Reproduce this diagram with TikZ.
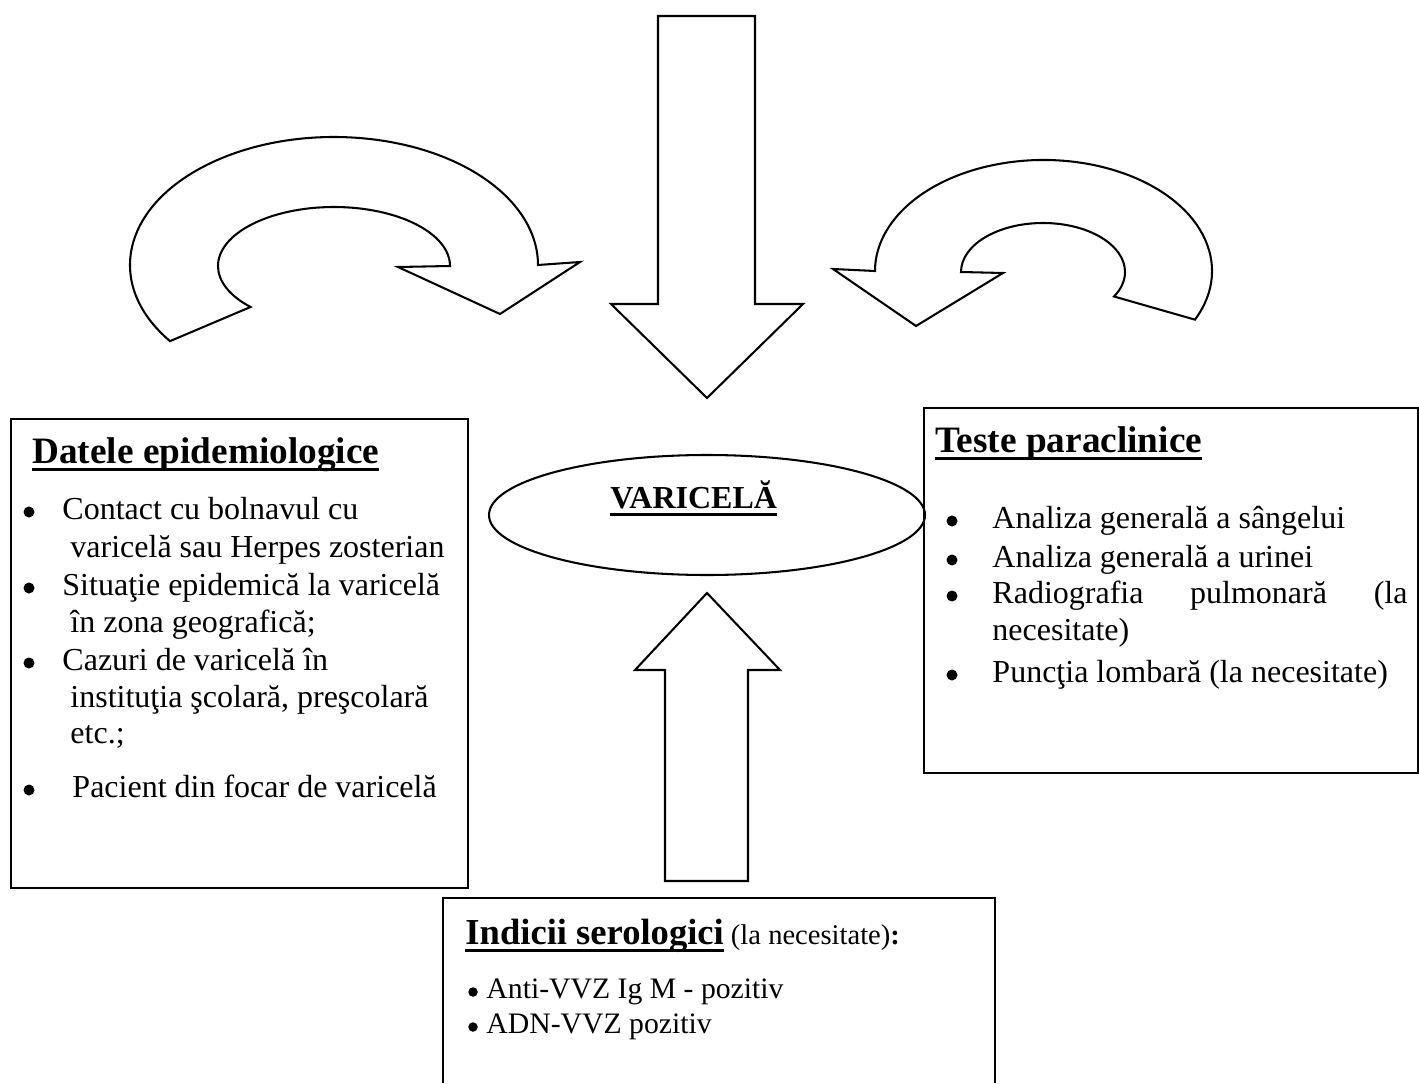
\documentclass[tikz,border=0pt]{standalone}
\usepackage{fontspec}
\setmainfont{Liberation Serif}
\usetikzlibrary{shapes.geometric}
\newlength{\px}
\setlength{\px}{0.4375pt}
\newlength{\ulwidth}
\newcommand{\wordul}[1]{%
  \settowidth{\ulwidth}{#1}\rlap{\rule[-3.3pt]{\ulwidth}{0.9pt}}#1}
\newcommand{\sz}[1]{\fontsize{#1}{#1}\selectfont}
\tikzset{
  outline/.style={draw, line width=0.9pt, line join=miter, fill=white},
  panel/.style={draw, line width=1pt, anchor=north west, inner sep=0pt},
  txt/.style={anchor=base west, inner sep=0pt},
  dot/.style={circle, fill, inner sep=0pt, minimum size=11\px},
  smalldot/.style={dot, minimum size=9.5\px},
}

\begin{document}
\begin{tikzpicture}[x=0.4375pt, y=-0.4375pt]
  \useasboundingbox (0,0) rectangle (1419,1083);

  % block arrows
  \draw[outline] (658,16) -- (755,16) -- (755,304) -- (803,304) -- (707,398)
    -- (611,304) -- (658,304) -- cycle;
  \draw[outline] (665,881) -- (665,670) -- (635,670) -- (707,593) -- (780,670)
    -- (748,670) -- (748,881) -- cycle;
  \draw[outline] (334,265) ++(143.5:204 and 128)
    arc[start angle=143.5, end angle=360, x radius=204, y radius=128]
    -- (580,262) -- (500,314) -- (398,267) -- (450,266)
    arc[start angle=360, end angle=136, x radius=116, y radius=59] -- cycle;
  \draw[outline] (1043.5,271) ++(26:168.5 and 111)
    arc[start angle=26, end angle=-180, x radius=168.5, y radius=111]
    -- (833,269) -- (916,326) -- (1003,273) -- (961,272)
    arc[start angle=180, end angle=390, x radius=82, y radius=49] -- cycle;

  % centre
  \node[ellipse, draw, line width=0.9pt, inner sep=0pt,
    minimum width=436\px, minimum height=120\px] (varicela) at (707,515) {};
  \node[txt, font=\sz{14}\bfseries] (varicelatext) at (610,508) {\wordul{VARICELĂ}};

  % left box
  \node[panel, minimum width=457\px, minimum height=469\px] (epibox) at (10,418) {};
  \node[txt, font=\sz{16.3}\bfseries] (epititle) at (32,463) {\wordul{Datele epidemiologice}};
  \foreach \y/\t [count=\i] in {519/Contact cu bolnavul cu,
      595/Situaţie epidemică la varicelă, 670/Cazuri de varicelă în}{
    \node[dot] (epidot\i) at (29,\y-7) {};
    \node[txt, font=\sz{14}] (epi\i) at (62,\y) {\t};
  }
  \foreach \y/\t [count=\i] in {557/varicelă sau Herpes zosterian,
      632/în zona geografică;, 707/{instituţia şcolară, preşcolară}, 743/etc.;}
    \node[txt, font=\sz{14}] (epicont\i) at (70,\y) {\t};
  \node[dot] (epidot4) at (29,790) {};
  \node[txt, font=\sz{14}] (epi4) at (72,797) {Pacient din focar de varicelă};

  % right box
  \node[panel, minimum width=494\px, minimum height=365\px] (testbox) at (923,407) {};
  \node[txt, font=\sz{16.3}\bfseries] (testtitle) at (935,452) {\wordul{Teste paraclinice}};
  \foreach \y/\t [count=\i] in {528/Analiza generală a sângelui,
      567/Analiza generală a urinei,
      603/\makebox[415\px][s]{Radiografia\hfill pulmonară\hfill (la},
      682/Puncţia lombară (la necesitate)}{
    \node[dot] (testdot\i) at (952,\y-7) {};
    \node[txt, font=\sz{14}] (test\i) at (992,\y) {\t};
  }
  \node[txt, font=\sz{14}] (testcont) at (992,640) {necesitate)};

  % bottom box
  \draw[line width=1pt] (443,1083) |- (995,898) -- (995,1083);
  \node[txt, font=\sz{12.5}] (serotitle) at (465,944)
    {{\sz{16}\bfseries\wordul{Indicii serologici}} (la necesitate)\textbf{:}};
  \foreach \y/\t [count=\i] in {998/Anti-VVZ Ig M - pozitiv, 1033/ADN-VVZ pozitiv}{
    \node[smalldot] (serodot\i) at (473,\y-6) {};
    \node[txt, font=\sz{13}] (sero\i) at (486,\y) {\t};
  }
\end{tikzpicture}
\end{document}
